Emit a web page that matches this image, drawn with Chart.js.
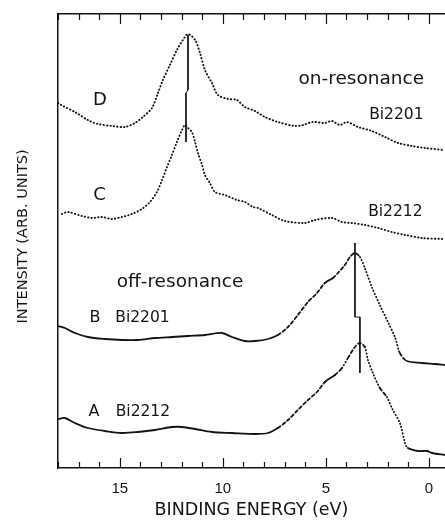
<!DOCTYPE html>
<html>
<head>
<meta charset="utf-8">
<script src="https://cdn.jsdelivr.net/npm/chart.js@4.4.1/dist/chart.umd.min.js"></script>
<style>
  html, body { margin: 0; padding: 0; background: #fff; }
  #wrap { width: 445px; height: 523px; position: relative; }
</style>
</head>
<body>
<div id="wrap"><canvas id="spectra"></canvas></div>
<script>
// binding energy (eV) / intensity (arb. units)
const energyD = [18.0, 17.76, 17.18, 16.55, 16.06, 15.38, 14.75, 14.27, 13.88, 13.44, 13.15, 12.91, 12.57, 12.23, 11.94, 11.69, 11.35, 11.11, 10.87, 10.53, 10.24, 9.75, 9.32, 8.93, 8.44, 7.96, 7.33, 6.50, 6.11, 5.63, 5.05, 4.71, 4.32, 3.98, 3.44, 2.77, 2.13, 1.50, 0.82, 0.19, -0.73];
const intensityD = [365, 362, 356, 348, 344, 342, 341, 345, 351, 360, 375, 388, 403, 418, 428, 434, 428, 415, 398, 385, 373, 369, 368, 361, 357, 351, 346, 342, 343, 346, 345, 347, 343, 346, 341, 337, 331, 325, 322, 320, 318];

const energyC = [17.81, 17.52, 16.84, 16.35, 15.87, 15.38, 14.90, 14.41, 13.93, 13.54, 13.20, 12.95, 12.71, 12.47, 12.23, 11.98, 11.84, 11.69, 11.50, 11.35, 11.21, 11.01, 10.87, 10.63, 10.38, 9.90, 9.32, 8.93, 8.54, 8.30, 7.62, 6.99, 6.02, 5.53, 4.71, 4.22, 3.74, 3.11, 2.47, 1.80, 1.16, 0.34, -0.73];
const intensityC = [254, 256, 252, 250, 251, 249, 251, 254, 259, 266, 276, 288, 301, 313, 326, 338, 343, 340, 336, 326, 315, 303, 293, 285, 276, 273, 268, 266, 261, 260, 253, 247, 245, 248, 250, 246, 245, 243, 240, 236, 233, 230, 229];

const energyB = [18.0, 17.66, 17.18, 16.55, 15.72, 14.90, 14.12, 13.29, 12.47, 11.69, 10.87, 10.04, 9.56, 8.93, 8.44, 7.81, 7.33, 6.84, 6.36, 5.87, 5.43, 5.05, 4.66, 4.42, 4.08, 3.83, 3.59, 3.35, 3.11, 2.77, 2.38, 1.99, 1.65, 1.41, 1.07, 0.34, -0.29, -0.78];
const intensityB = [142, 140, 135, 131, 129, 128, 128, 130, 131, 132, 133, 135, 131, 127, 127, 129, 133, 141, 153, 166, 175, 185, 190, 195, 203, 211, 215, 211, 200, 181, 163, 146, 131, 115, 107, 105, 104, 103];

const energyA = [18.0, 17.66, 17.18, 16.55, 15.72, 14.90, 14.12, 13.29, 12.47, 11.98, 11.35, 10.53, 9.56, 8.44, 7.81, 7.33, 6.84, 6.36, 5.87, 5.43, 5.05, 4.56, 4.22, 3.93, 3.59, 3.35, 3.11, 2.96, 2.72, 2.38, 2.04, 1.75, 1.41, 1.16, 1.02, 0.53, 0.10, -0.15, -0.78];
const intensityA = [49, 50, 45, 40, 37, 35, 36, 38, 41, 41, 39, 36, 35, 34, 35, 40, 48, 58, 68, 76, 86, 93, 100, 110, 121, 125, 121, 108, 95, 80, 71, 58, 45, 25, 20, 17, 17, 15, 13];

// vertical lines joining the peaks
const markerDCEnergy = [11.69, 11.69, 11.79, 11.79];
const markerDCIntensity = [433, 378, 375, 326];
const markerBAEnergy = [3.59, 3.59, 3.35, 3.35];
const markerBAIntensity = [225, 151, 151, 95];

const tickEnergies = [0, 1, 2, 3, 4, 5, 6, 7, 8, 9, 10, 11, 12, 13, 14, 15, 16, 17, 18];
const labelEnergies = [0, 5, 10, 15];

// text inside the plot: [text, energy, intensity, font size]
const notes = [
  ['on-resonance', 3.28, 389, 18.5],
  ['Bi2201', 1.58, 353, 15.5],
  ['D', 15.96, 368, 18],
  ['C', 15.99, 273, 18],
  ['Bi2212', 1.63, 256, 15.5],
  ['off-resonance', 12.08, 186, 18.5],
  ['B', 16.2, 150, 16],
  ['Bi2201', 13.9, 150, 15.5],
  ['A', 16.25, 56, 16],
  ['Bi2212', 13.88, 56, 15.5]
];

const ink = '#141414';
const pts = (xs, ys) => xs.map((x, i) => ({x: x, y: ys[i]}));

// steep flanks of the off-resonance spectra look dashed / dotted in the scan
const edgeDash = c => {
  const dx = Math.abs(c.p1.x - c.p0.x), dy = Math.abs(c.p1.y - c.p0.y);
  const s = dy / Math.max(dx, 0.01);
  if (s > 1.6) return [0.5, 2.8];
  if (s > 0.7) return [3.2, 2.6];
  return undefined;
};

const dotted = {borderColor: ink, borderWidth: 1.9, borderDash: [0.4, 3], borderCapStyle: 'round', pointRadius: 0, tension: 0.3, fill: false};
const dense = {borderColor: ink, borderWidth: 1.8, borderCapStyle: 'round', pointRadius: 0, tension: 0.3, fill: false, segment: {borderDash: edgeDash}};
const marker = {borderColor: ink, borderWidth: 1, pointRadius: 0, tension: 0, fill: false};

const inwardTicks = {
  id: 'inwardTicks',
  afterDraw(chart) {
    const c = chart.ctx, a = chart.chartArea, xs = chart.scales.x;
    c.save();
    c.strokeStyle = ink;
    c.lineWidth = 1.2;
    tickEnergies.forEach(v => {
      const px = Math.round(xs.getPixelForValue(v)) + 0.5;
      const len = v % 5 === 0 ? 10 : 6;
      c.beginPath();
      c.moveTo(px, a.bottom); c.lineTo(px, a.bottom - len);
      c.moveTo(px, a.top); c.lineTo(px, a.top + len);
      c.stroke();
    });
    c.restore();
  }
};

const noteText = {
  id: 'noteText',
  afterDraw(chart) {
    const c = chart.ctx, xs = chart.scales.x, ys = chart.scales.y;
    c.save();
    c.fillStyle = ink;
    c.textAlign = 'center';
    c.textBaseline = 'middle';
    notes.forEach(n => {
      c.font = n[3] + 'px "DejaVu Sans"';
      c.fillText(n[0], xs.getPixelForValue(n[1]), ys.getPixelForValue(n[2]));
    });
    c.restore();
  }
};

const xMin = -0.78, xMax = 18;

new Chart(document.getElementById('spectra'), {
  type: 'line',
  data: {
    datasets: [
      Object.assign({label: 'D', data: pts(energyD, intensityD)}, dotted),
      Object.assign({label: 'C', data: pts(energyC, intensityC)}, dotted),
      Object.assign({label: 'B', data: pts(energyB, intensityB)}, dense),
      Object.assign({label: 'A', data: pts(energyA, intensityA)}, dense),
      Object.assign({label: 'DC', data: pts(markerDCEnergy, markerDCIntensity)}, marker),
      Object.assign({label: 'BA', data: pts(markerBAEnergy, markerBAIntensity)}, marker)
    ]
  },
  options: {
    responsive: true,
    maintainAspectRatio: false,
    animation: false,
    layout: {padding: 0},
    plugins: {legend: {display: false}, tooltip: {enabled: false}},
    scales: {
      x: {
        type: 'linear', position: 'bottom', min: xMin, max: xMax, reverse: true,
        afterFit: s => { s.height = 55; },
        afterBuildTicks: s => { s.ticks = tickEnergies.map(v => ({value: v})); },
        grid: {display: false, drawTicks: false},
        border: {display: true, color: ink, width: 1.5},
        ticks: {
          autoSkip: false, maxRotation: 0, padding: 12, color: ink,
          font: {family: 'Liberation Sans', size: 15},
          callback: v => labelEnergies.includes(v) ? String(v) : ''
        },
        title: {
          display: true, text: 'BINDING ENERGY (eV)', color: ink,
          font: {family: 'DejaVu Sans', size: 17.5}, padding: {top: 0, bottom: 2.5}
        }
      },
      x2: {
        type: 'linear', position: 'top', min: xMin, max: xMax, reverse: true,
        afterFit: s => { s.height = 14; },
        grid: {display: false, drawTicks: false},
        border: {display: true, color: ink, width: 1.5},
        ticks: {display: false}
      },
      y: {
        type: 'linear', min: 0, max: 454,
        afterFit: s => { s.width = 58; },
        grid: {display: false, drawTicks: false},
        border: {display: true, color: ink, width: 1.5},
        ticks: {display: false},
        title: {
          display: true, text: '  INTENSITY (ARB. UNITS)', color: ink,
          font: {family: 'DejaVu Sans', size: 14.5}, padding: {top: 15, bottom: 0}
        }
      }
    }
  },
  plugins: [inwardTicks, noteText]
});
</script>
</body>
</html>
